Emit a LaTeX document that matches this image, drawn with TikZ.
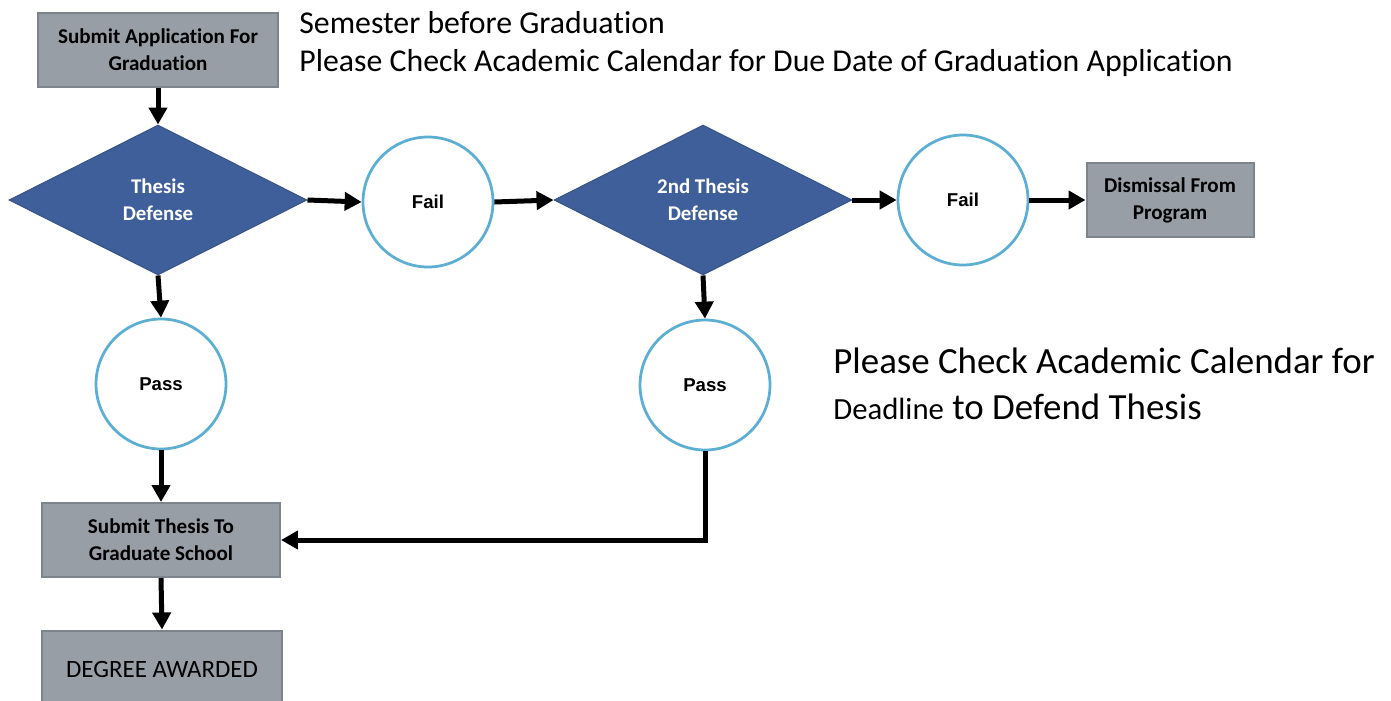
\documentclass[tikz,border=0pt]{standalone}
\usepackage{fontspec}
\setmainfont[Ligatures=NoCommon]{Carlito}
\newfontfamily\arialf{Liberation Sans}
\usetikzlibrary{shapes.geometric,arrows.meta}
\definecolor{boxgray}{HTML}{989EA6}
\definecolor{boxedge}{HTML}{7E848B}
\definecolor{dblue}{HTML}{3F5F9B}
\definecolor{dedge}{HTML}{36538A}
\definecolor{cblue}{HTML}{5CAFD2}
\tikzset{
  graybox/.style={rectangle, fill=boxgray, draw=boxedge, line width=0.04cm,
    minimum width=4.8cm, minimum height=1.48cm, inner sep=0pt, align=center,
    font=\fontsize{12pt}{15.4pt}\selectfont\bfseries},
  decide/.style={diamond, fill=dblue, draw=dedge, line width=0.02cm,
    minimum width=5.96cm, minimum height=3cm, inner sep=0pt, align=center,
    text=white, font=\fontsize{11.9pt}{15.4pt}\selectfont\bfseries},
  outcome/.style={circle, draw=cblue, fill=white, line width=0.055cm,
    minimum size=2.6cm, inner sep=0pt,
    font=\arialf\fontsize{10.6pt}{12pt}\selectfont},
  flow/.style={line width=0.1cm, -{Triangle[length=0.34cm,width=0.36cm]}},
  note/.style={anchor=west, inner sep=0pt, font=\fontsize{18.1pt}{21pt}\selectfont}
}
\begin{document}
\begin{tikzpicture}[x=0.02cm, y=-0.02cm]
\useasboundingbox[fill=white] (0,0) rectangle (1391,700);
\node[graybox] (apply) at (158,50) {Submit Application For\\Graduation};
\node[decide] (d1) at (158,200) {Thesis\\Defense};
\node[outcome] (fail1) at (428,202) {\textbf{Fail}};
\node[decide] (d2) at (703,200) {2nd Thesis\\Defense};
\node[outcome] (fail2) at (963,200) {\textbf{Fail}};
\node[graybox, minimum width=3.34cm, minimum height=1.5cm] (dismiss) at (1170,200) {Dismissal From\\Program};
\node[outcome] (pass1) at (161,384) {\textbf{Pass}};
\node[outcome] (pass2) at (705,385) {\textbf{Pass}};
\node[graybox, minimum width=4.76cm] (submit) at (161,540) {Submit Thesis To\\Graduate School};
\node[graybox, minimum width=4.8cm, minimum height=1.54cm, font=\fontsize{14.2pt}{16pt}\selectfont] (degree) at (162,669) {DEGREE AWARDED};
\node[note] (n1) at (299,23) {Semester before Graduation};
\node[note] (n2) at (299,63) {Please Check Academic Calendar for Due Date of Graduation Application};
\node[note, font=\fontsize{21pt}{24pt}\selectfont] (n3) at (833,361) {Please Check Academic Calendar for};
\node[note, font=\fontsize{21pt}{24pt}\selectfont] (n4) at (833,407) {{\fontsize{17.5pt}{20pt}\selectfont Deadline} to Defend Thesis};
\draw[flow] (apply) -- (d1);
\draw[flow] (d1.east) -- (fail1.west);
\draw[flow] (fail1.east) -- (d2.west);
\draw[flow] (d2.east) -- (fail2.west);
\draw[flow] (fail2.east) -- (dismiss.west);
\draw[flow] (d1.south) -- (pass1.north);
\draw[flow] (pass1.south) -- (submit.north);
\draw[flow] (d2.south) -- (pass2.north);
\draw[flow] (pass2.south) |- (submit.east);
\draw[flow] (submit.south) -- (degree.north);
\end{tikzpicture}
\end{document}
